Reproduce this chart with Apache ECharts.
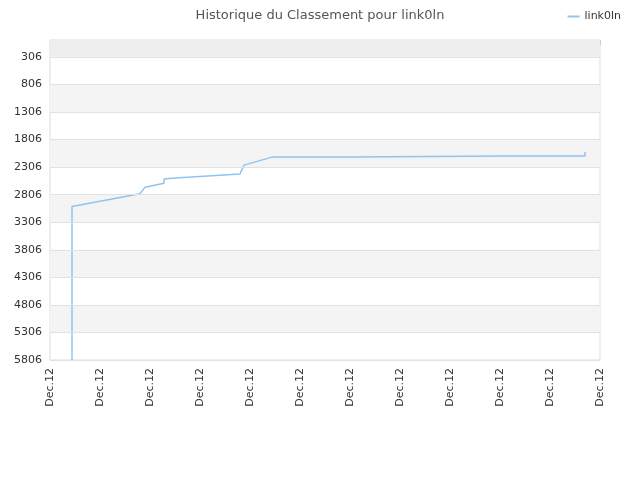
<!DOCTYPE html><html><head><meta charset="utf-8"><script src="https://cdn.jsdelivr.net/npm/echarts@6/dist/echarts.min.js"></script></head><body style="margin:0"><div id="c" style="width:640px;height:480px"></div><script>
const xLabels=['Dec.12','Dec.12','Dec.12','Dec.12','Dec.12','Dec.12','Dec.12','Dec.12','Dec.12','Dec.12','Dec.12','Dec.12'];
const yTicks=[306,806,1306,1806,2306,2806,3306,3806,4306,4806,5306,5806];
const xs=[0.44,0.44,1.8,1.9,2.28,2.28,2.5,3.8,3.88,4.44,6,6,9.1,10.7,10.7];
const ranks=[5806,3020,2790,2670,2600,2520,2505,2430,2270,2125,2125,2115,2105,2105,2030];
const bands=[];for(let i=1;i<yTicks.length-1;i+=2)bands.push([yTicks[i],yTicks[i+1]]);
const ch=echarts.init(document.getElementById('c'));
ch.setOption({animation:false,
title:{text:'Historique du Classement pour link0ln',left:'center',top:4,textStyle:{fontSize:13,fontWeight:'normal',color:'#555',fontFamily:'DejaVu Sans'}},
legend:{right:14,top:6,itemWidth:12,itemHeight:2,textStyle:{fontSize:11,color:'#333',fontFamily:'DejaVu Sans'},icon:'rect'},
grid:{left:50,right:40,top:40,bottom:120,show:true,borderColor:'#ddd',borderWidth:1},
xAxis:{type:'value',min:0,max:11,interval:1,axisLine:{lineStyle:{color:'#ccc'}},axisTick:{show:true,lineStyle:{color:'#ccc'}},splitLine:{show:false},
axisLabel:{rotate:90,color:'#333',fontSize:11,fontFamily:'DejaVu Sans',formatter:(v)=>xLabels[Math.round(v)]}},
yAxis:{type:'value',inverse:true,min:0,max:5806,axisLine:{show:false},axisTick:{show:false},splitLine:{show:false},
axisLabel:{customValues:yTicks,formatter:(v)=>String(v),color:'#333',fontSize:11,fontFamily:'DejaVu Sans'}},
series:[{name:'link0ln',type:'line',data:xs.map((x,i)=>[x,ranks[i]]),symbol:'none',lineStyle:{color:'#90c4f0',width:1.5},itemStyle:{color:'#90c4f0'},
markArea:{silent:true,data:[[{yAxis:0,itemStyle:{color:'#eeeeee'}},{yAxis:306}]].concat(bands.map(b=>[{yAxis:b[0],itemStyle:{color:'#f4f4f4'}},{yAxis:b[1]}]))},
markLine:{silent:true,symbol:'none',label:{show:false},lineStyle:{color:'#e2e2e2',type:'solid',width:1},data:yTicks.map(v=>({yAxis:v}))}}]});
</script></body></html>
